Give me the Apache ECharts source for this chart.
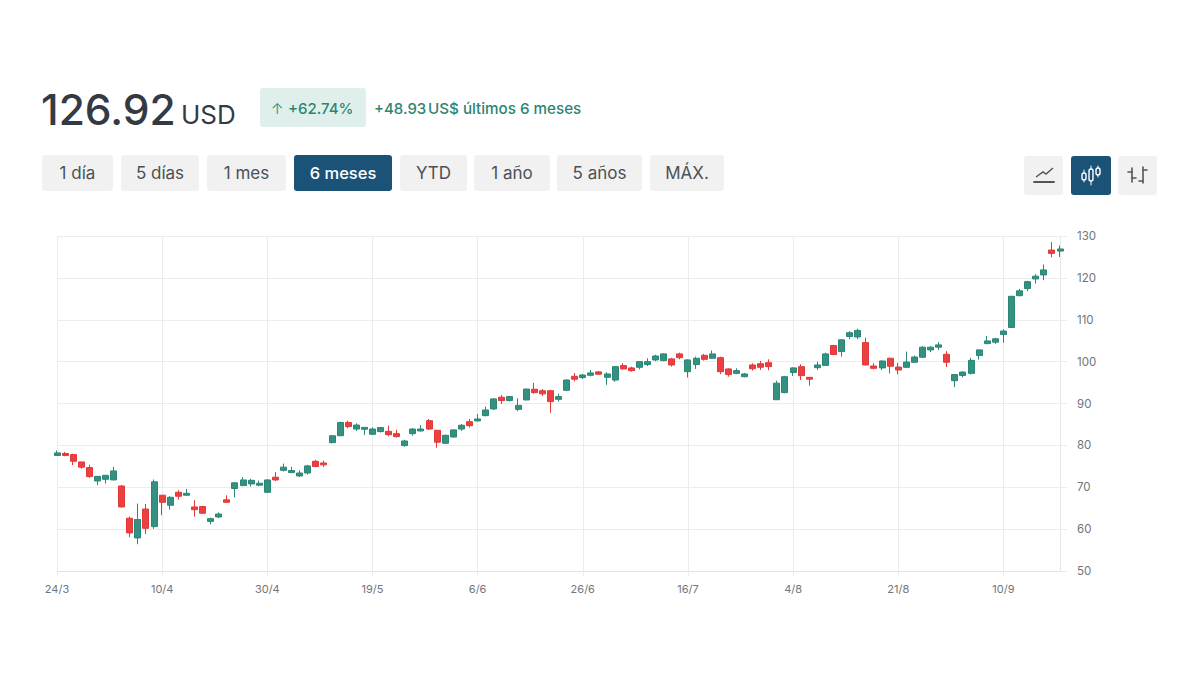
<!DOCTYPE html>
<html><head><meta charset="utf-8">
<style>html,body{margin:0;padding:0;background:#fff}#c{width:1200px;height:675px}</style>
<script src="https://cdn.jsdelivr.net/npm/echarts@6/dist/echarts.min.js"></script>
</head><body><div id="c"></div>
<script>
const tickLabels=["24/3","10/4","30/4","19/5","6/6","26/6","16/7","4/8","21/8","10/9"];
const yTicks=[50,130,10];
const opens=[77.6,78.05,77.8,76.05,74.7,71.5,71.9,71.75,70.3,62.6,57.9,64.8,60.6,68.1,65.7,68.8,68.1,65.3,65.4,61.85,62.9,67,69.7,70.4,70.8,70.5,68.8,72.4,74.05,73.5,72.7,73.4,76.2,75.8,
80.65,82.3,85.45,83.9,83.85,82.65,83.3,83.35,82.8,79.95,82.8,83.45,85.9,83.6,80.5,82,83.9,85.65,85.85,87.1,88.7,91.5,90.7,88.6,90.85,93.4,93.05,93.05,91,93.15,96.5,96.2,96.75,97.55,
96.25,95.6,99.05,98.5,98.65,99.3,100.4,100.25,100.65,101.85,97.6,99.3,101.5,100.8,100.95,98.25,97.2,96.4,99.2,99.5,99.75,90.9,92.6,97.4,98.8,96.25,98.55,99.1,
103.85,102.4,106,105.9,104.55,98.95,98.5,100.8,98.7,98.65,99.85,101.05,102.8,103.45,101.75,95.45,96.7,97.2,101.45,104.3,104.65,106.5,108.15,115.75,117.45,119.75,120.7,126.65,126.4];
const closes=[78.2,77.6,76.2,74.8,72.55,72.6,72.85,73.9,65.3,59.1,62.3,60.2,71.3,66.4,67.6,67.85,68.55,64.65,63.8,62.5,63.6,66.4,71.05,71.75,71.65,70.95,71.75,71.75,74.8,74,73.4,75.1,74.95,75.35,
82.3,85.45,84.5,84.85,84.3,83.9,84.25,82.55,82.1,81.05,83.9,83.9,83.9,80.75,82.4,83.7,84.8,84.7,86.3,88.45,91.1,90.7,91.65,89.55,93.45,92.6,92.3,90.45,91.65,95.6,95.8,96.8,97.3,97,
97.05,98.8,98.25,97.85,100,100,101.35,101.85,99.2,100.95,100.4,100.8,100.55,101.85,97.6,96.9,97.85,97.05,98.3,98.65,98.8,94.85,96.4,98.5,96.65,95.8,99.2,101.85,
101.7,105.2,106.9,107.45,99.2,98.4,100.15,98.9,98,99.9,101.1,103.45,103.45,104,99.85,96.9,97.5,100.3,102.8,104.95,105.45,107.3,115.6,116.9,119.1,120.4,121.9,125.85,126.9];
const lows=[77.5,77.4,75.3,74.4,72.25,70.5,70.9,71.65,65.2,58.05,56.4,58.85,60.05,63.3,64.65,67.05,68,63,63.6,61.15,62.65,66.35,67.6,70.25,70.15,70.25,68.65,71.45,73.8,73.35,72.45,73.05,74.8,74.8,
80.5,82.25,84.1,83.45,82.5,82.5,83.05,82.15,81.85,79.7,82.3,83.3,83.7,79.45,80.35,81.85,83.45,84.3,85.65,86.95,88.45,89.9,90.5,88.15,90.75,92.35,91.8,87.8,90.45,93.05,95.3,95.85,96.5,96.9,
94.45,95.2,98.15,97.6,98.15,98.95,100.1,100.1,98.8,100.55,96.2,98.25,100.25,100.65,97.05,96.4,97,96.25,97.85,98,97.95,90.85,92.45,96.6,95.6,94.25,98,98.95,
101.6,101.2,105.35,105.35,99.1,98.15,98,97.2,96.95,98.5,99.75,100.9,102.25,102.8,98.7,93.9,96.25,96.95,100.5,104.15,104.25,104.5,108.1,115.6,116.8,118.65,119.45,124.9,125];
const highs=[78.8,78.45,78,76.05,75.4,72.65,72.95,74.85,70.5,63,66.1,66,71.85,68.1,67.85,69.3,69.6,66.9,65.55,62.75,64,68.1,71.2,72.4,72,71.6,71.9,73.6,75.65,74.85,74.05,75.35,76.55,76.35,
82.5,85.65,85.9,85.25,84.3,84.3,84.4,84.7,83.7,81.35,84.1,84.85,86.3,83.7,82.55,83.85,85.1,86.3,87.5,89.25,91.25,92.05,91.8,91.25,93.55,94.9,93.45,93.25,92.35,95.8,97.3,97.05,98,97.75,
97.45,98.95,99.6,98.8,100.15,100.8,101.65,102,100.9,102.15,100.55,101.2,101.85,102.65,101.2,98.4,98.4,97.3,99.6,100.15,100.55,95.45,96.6,98.65,99.35,96.25,100,102.15,
104,105.35,107.3,107.85,105.7,99.6,100.3,100.95,99.7,102.4,101.45,103.7,103.7,104.65,102.5,97.05,97.7,100.9,102.95,106.15,105.7,107.7,115.7,117.35,119.3,120.9,123.2,128.55,127.7];
const rangeButtons=["1 día","5 días","1 mes","6 meses","YTD","1 año","5 años","MÁX."];
const rangeEdges=[[42,113],[121,199],[207,286],[294,392],[400,467],[474,550],[557,642],[650,724]];
const activeRange=3;

const F='Inter, "Noto Sans", sans-serif', BLUE='#1b5278', GREY='#f1f1f1', GREEN='#2b8573', UP='#35917f', DOWN='#ec4040';
const categories=opens.map((_,i)=>i%13===0?tickLabels[i/13]:'d'+i);
const txt=(x,y,text,size,fill,weight,align)=>({type:'text',silent:true,style:{x,y,text,fontFamily:F,fontSize:size,fontWeight:weight||400,fill,align:align||'left',verticalAlign:'middle'}});
const box=(x,y,w,h,fill,r)=>({type:'rect',silent:true,shape:{x,y,width:w,height:h,r:r||3},style:{fill}});
const seg=(x1,y1,x2,y2,c,w)=>({type:'line',silent:true,shape:{x1,y1,x2,y2},style:{stroke:c,lineWidth:w||1.6,lineCap:'round'}});

const g=[
 txt(41,109,'126.92',42.5,'#343a44',500),
 txt(181,114,'USD',26,'#343a44',400),
 box(260,88,106,39,'#dff0ec',3),
 txt(271,108,'↑',15,GREEN,300),
 txt(288,108,'+62.74%',15,GREEN,500),
 txt(374,108,'+48.93',15,GREEN,500),
 txt(428,108,'US$ últimos 6 meses',15.2,GREEN,500)
];
rangeButtons.forEach((t,i)=>{
 const [a,b]=rangeEdges[i], on=i===activeRange;
 g.push(box(a,155,b-a,36,on?BLUE:GREY,3));
 g.push(txt((a+b)/2,172.5,t,on?16.5:17,on?'#fff':'#4b5058',on?500:400,'center'));
});
g.push(box(1024,156,39,39,GREY,3),box(1071,156,40,39,BLUE,3),box(1118,156,39,39,GREY,3));
g.push({type:'polyline',silent:true,shape:{points:[[1036,177],[1043,172],[1046,174],[1053,168]]},style:{stroke:'#555',lineWidth:1.5,fill:null}});
g.push(seg(1034,182,1054,182,'#555',1.8));
[[1084,173,7,170,182],[1091,169,12,166,185],[1098,168,7,166,177]].forEach(c=>{
 g.push({type:'rect',silent:true,shape:{x:c[0]-2,y:c[1],width:4,height:c[2],r:2},style:{stroke:'#fff',lineWidth:1.4,fill:null}});
 g.push(seg(c[0],c[3],c[0],c[1],'#fff',1),seg(c[0],c[1]+c[2],c[0],c[4],'#fff',1));
});
g.push(seg(1132,168,1132,182,'#555'),seg(1128,172,1132,172,'#555'),seg(1132,178,1136,178,'#555'));
g.push(seg(1143,167,1143,183,'#555'),seg(1139,181,1143,181,'#555'),seg(1143,170,1147,170,'#555'));

echarts.init(document.getElementById('c'),null,{renderer:'svg'}).setOption({
 animation:false,backgroundColor:'#fff',
 grid:{left:57,right:140,top:236,bottom:104},
 xAxis:{type:'category',data:categories,boundaryGap:false,
  axisLine:{lineStyle:{color:'#e2e2e2'}},axisTick:{interval:12,length:5,lineStyle:{color:'#ececec'}},
  splitLine:{show:true,interval:12,lineStyle:{color:'#ececec',width:1}},
  axisLabel:{interval:12,color:'#70757b',fontFamily:F,fontSize:11,margin:12,hideOverlap:false,showMinLabel:true}},
 yAxis:{type:'value',position:'right',min:yTicks[0],max:yTicks[1],interval:yTicks[2],
  axisLine:{show:true,lineStyle:{color:'#e6e6e6'}},axisTick:{show:true,length:7,lineStyle:{color:'#ececec'}},
  splitLine:{show:true,lineStyle:{color:'#ececec',width:1}},
  axisLabel:{color:'#70757b',fontFamily:F,fontSize:11.5,margin:17}},
 series:[{type:'candlestick',clip:false,barWidth:6.5,
  data:opens.map((o,i)=>[o,closes[i],lows[i],highs[i]]),
  itemStyle:{color:UP,color0:DOWN,borderColor:'#2a8676',borderColor0:'#e23838',borderWidth:1}}],
 graphic:g
});
</script></body></html>
